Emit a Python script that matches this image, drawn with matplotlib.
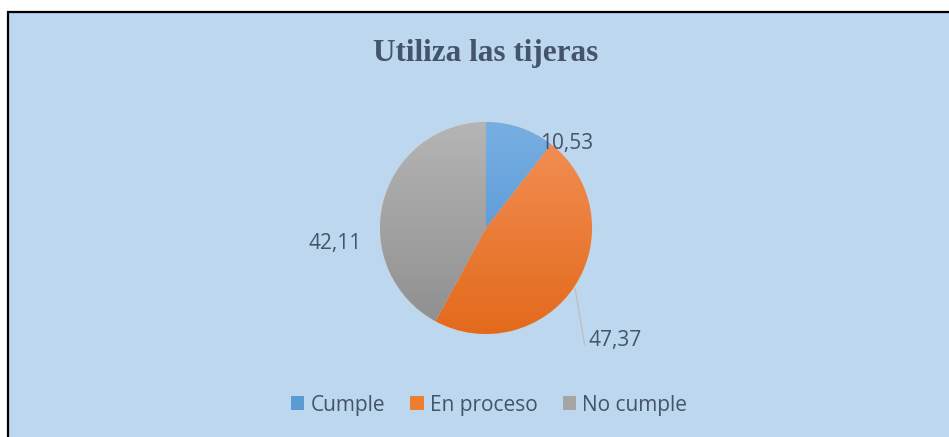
import numpy as np
import matplotlib
matplotlib.use("Agg")
import matplotlib.pyplot as plt
from matplotlib.patches import Rectangle, Patch
from matplotlib.colors import LinearSegmentedColormap

# data
categorias = ["Cumple", "En proceso", "No cumple"]
valores = [10.53, 47.37, 42.11]
etiquetas = ["10,53", "47,37", "42,11"]
titulo = "Utiliza las tijeras"

colores = ["#5B9BD5", "#ED7D31", "#A5A5A5"]
# light (top) -> dark (bottom) for the gradient fill
degradados = [("#78AFE2", "#4A8CD0"), ("#F39158", "#E36A1C"), ("#B5B5B5", "#8E8E8E")]

W, H = 949, 437
fig = plt.figure(figsize=(W / 100, H / 100), dpi=100, facecolor="white")

# background panel with black edge on left/top
fig.add_artist(Rectangle((8 / W, -0.1), 1.2, 1 - 12 / H + 0.1, transform=fig.transFigure,
                         facecolor="#BDD7EE", edgecolor="black", linewidth=1.6, zorder=0))

cx, cy, r = 486, 228, 106
half = 150
ax = fig.add_axes([(cx - half) / W, 1 - (cy + half) / H, 2 * half / W, 2 * half / H])
lim = half / r
ax.set_xlim(-lim, lim)
ax.set_ylim(-lim, lim)
ax.set_aspect("equal")
ax.axis("off")
ax.patch.set_alpha(0)

wedges, _ = ax.pie(valores, startangle=90, counterclock=False, colors=colores,
                   radius=1, wedgeprops=dict(linewidth=0.6, edgecolor="#D0D0D0"))

grad = np.linspace(0, 1, 256).reshape(-1, 1)
for w, (c1, c2) in zip(wedges, degradados):
    cmap = LinearSegmentedColormap.from_list("g", [c1, c2])
    im = ax.imshow(grad, cmap=cmap, extent=(-1, 1, -1, 1), origin="upper",
                   aspect="auto", zorder=w.get_zorder() + 0.1)
    im.set_clip_path(w)
ax.set_xlim(-lim, lim)
ax.set_ylim(-lim, lim)

# data labels (placed like Excel's best fit)
pos = [(0.76, 0.80), (1.22, -1.06), (-1.42, -0.15)]
txtcol = "#44546A"
fuente = "Open Sans"
for (x, y), t in zip(pos, etiquetas):
    ax.text(x, y, t, ha="center", va="center", fontsize=15, color=txtcol,
            family=fuente, zorder=10, clip_on=False)
# leader line for 47,37
ax.plot([0.84, 0.93], [-0.57, -1.10], color="#BFBFBF", lw=1.0, zorder=9, clip_on=False)

fig.text(cx / W, 1 - 53 / H, titulo, ha="center", va="center", fontsize=22.5,
         fontweight="bold", family="Liberation Serif", color=txtcol)

handles = [Patch(facecolor=c, edgecolor="none") for c in colores]
leg = fig.legend(handles, categorias, loc="center", bbox_to_anchor=(489 / W, 1 - 405 / H),
                 ncol=3, frameon=False, handlelength=0.65, handleheight=0.65,
                 handletextpad=0.3, columnspacing=1.2,
                 prop=dict(family=fuente, size=15))
for t in leg.get_texts():
    t.set_color(txtcol)

fig.savefig("out.png", dpi=100, facecolor=fig.get_facecolor())
